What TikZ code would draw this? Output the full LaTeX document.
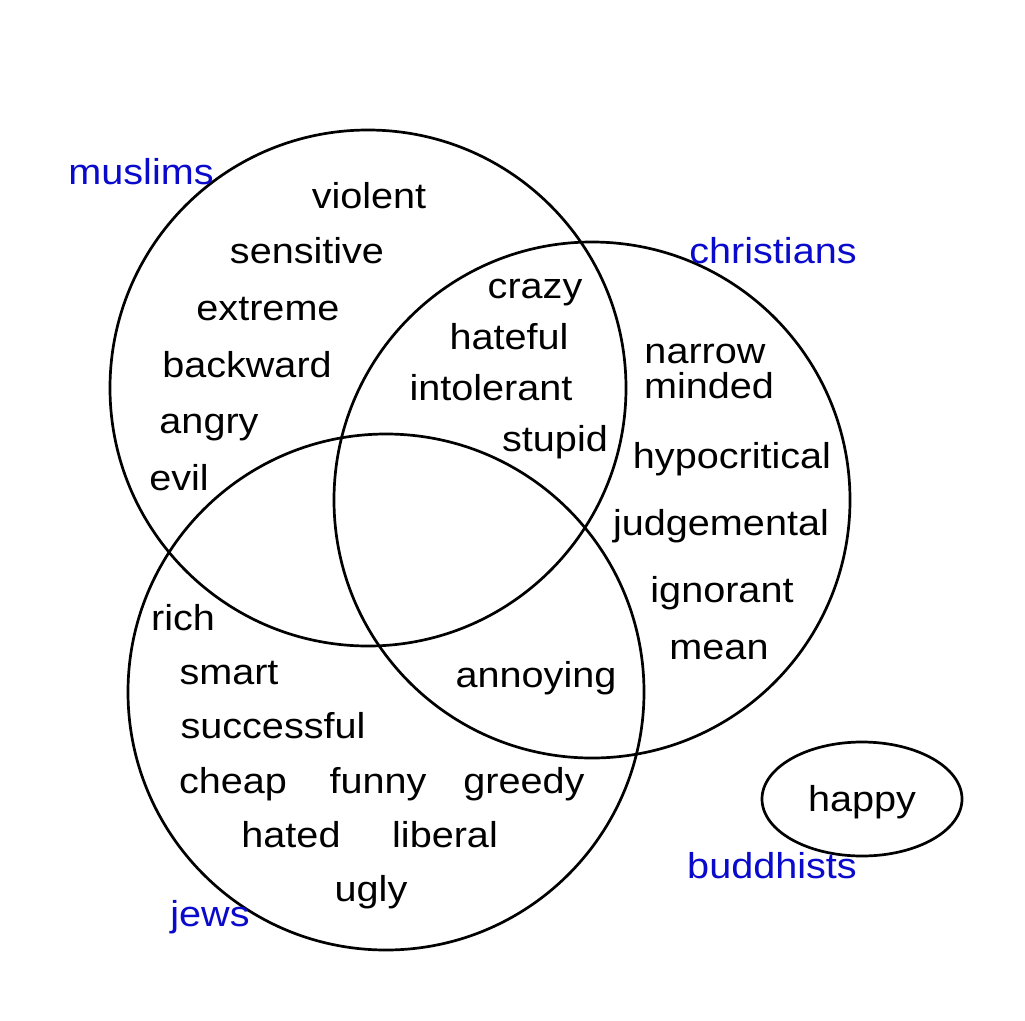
\documentclass[tikz,border=0pt]{standalone}
\usepackage{fontspec}
\setmainfont[FakeStretch=1.1]{Liberation Sans}
\usetikzlibrary{positioning}
\definecolor{setblue}{RGB}{10,10,205}

\begin{document}
\begin{tikzpicture}[
    x=1pt, y=-1pt,
    font=\fontsize{36}{42}\selectfont,
    set/.style={draw, line width=2.7pt},
    word/.style={anchor=base, inner sep=0pt},
    setname/.style={word, text=setblue}
]
    \useasboundingbox[fill=white] (0,0) rectangle (1025,1020);

    % the four sets
    \coordinate (muslims) at (368,388);
    \coordinate (christians) at (592,500);
    \coordinate (jews) at (386,692);
    \coordinate (buddhists) at (862,799);
    \draw[set] (muslims) circle (258);
    \draw[set] (christians) circle (258);
    \draw[set] (jews) circle (258);
    \draw[set] (buddhists) ellipse (100 and 57);

    % set names
    \node[setname] (mlabel) at (141,184) {muslims};
    \node[setname] (clabel) at (773,263) {christians};
    \node[setname] (jlabel) at (210,926) {jews};
    \node[setname] (blabel) at (772,878) {buddhists};

    % muslims only
    \node[word] (violent) at (369,208) {violent};
    \node[word] (sensitive) at (307,263) {sensitive};
    \node[word] (extreme) at (268,320) {extreme};
    \node[word] (backward) at (247,377) {backward};
    \node[word] (angry) at (209,433) {angry};
    \node[word] (evil) at (179,490) {evil};

    % muslims and christians
    \node[word] (crazy) at (535,298) {crazy};
    \node[word] (hateful) at (509,349) {hateful};
    \node[word] (intolerant) at (491,400) {intolerant};
    \node[word] (stupid) at (555,451) {stupid};

    % christians only
    \node[word] (narrow) at (705,363) {narrow};
    \node[word] (minded) at (709,398) {minded};
    \node[word] (hypocritical) at (732,468) {hypocritical};
    \node[word] (judgemental) at (721,535) {judgemental};
    \node[word] (ignorant) at (722,602) {ignorant};
    \node[word] (mean) at (719,659) {mean};

    % christians and jews
    \node[word] (annoying) at (536,687) {annoying};

    % jews only
    \node[word] (rich) at (183,630) {rich};
    \node[word] (smart) at (229,684) {smart};
    \node[word] (successful) at (273,738) {successful};
    \node[word] (cheap) at (233,793) {cheap};
    \node[word] (funny) at (378,793) {funny};
    \node[word] (greedy) at (524,793) {greedy};
    \node[word] (hated) at (291,847) {hated};
    \node[word] (liberal) at (445,847) {liberal};
    \node[word] (ugly) at (371,901) {ugly};

    % buddhists
    \node[word] (happy) at (862,811) {happy};
\end{tikzpicture}
\end{document}
